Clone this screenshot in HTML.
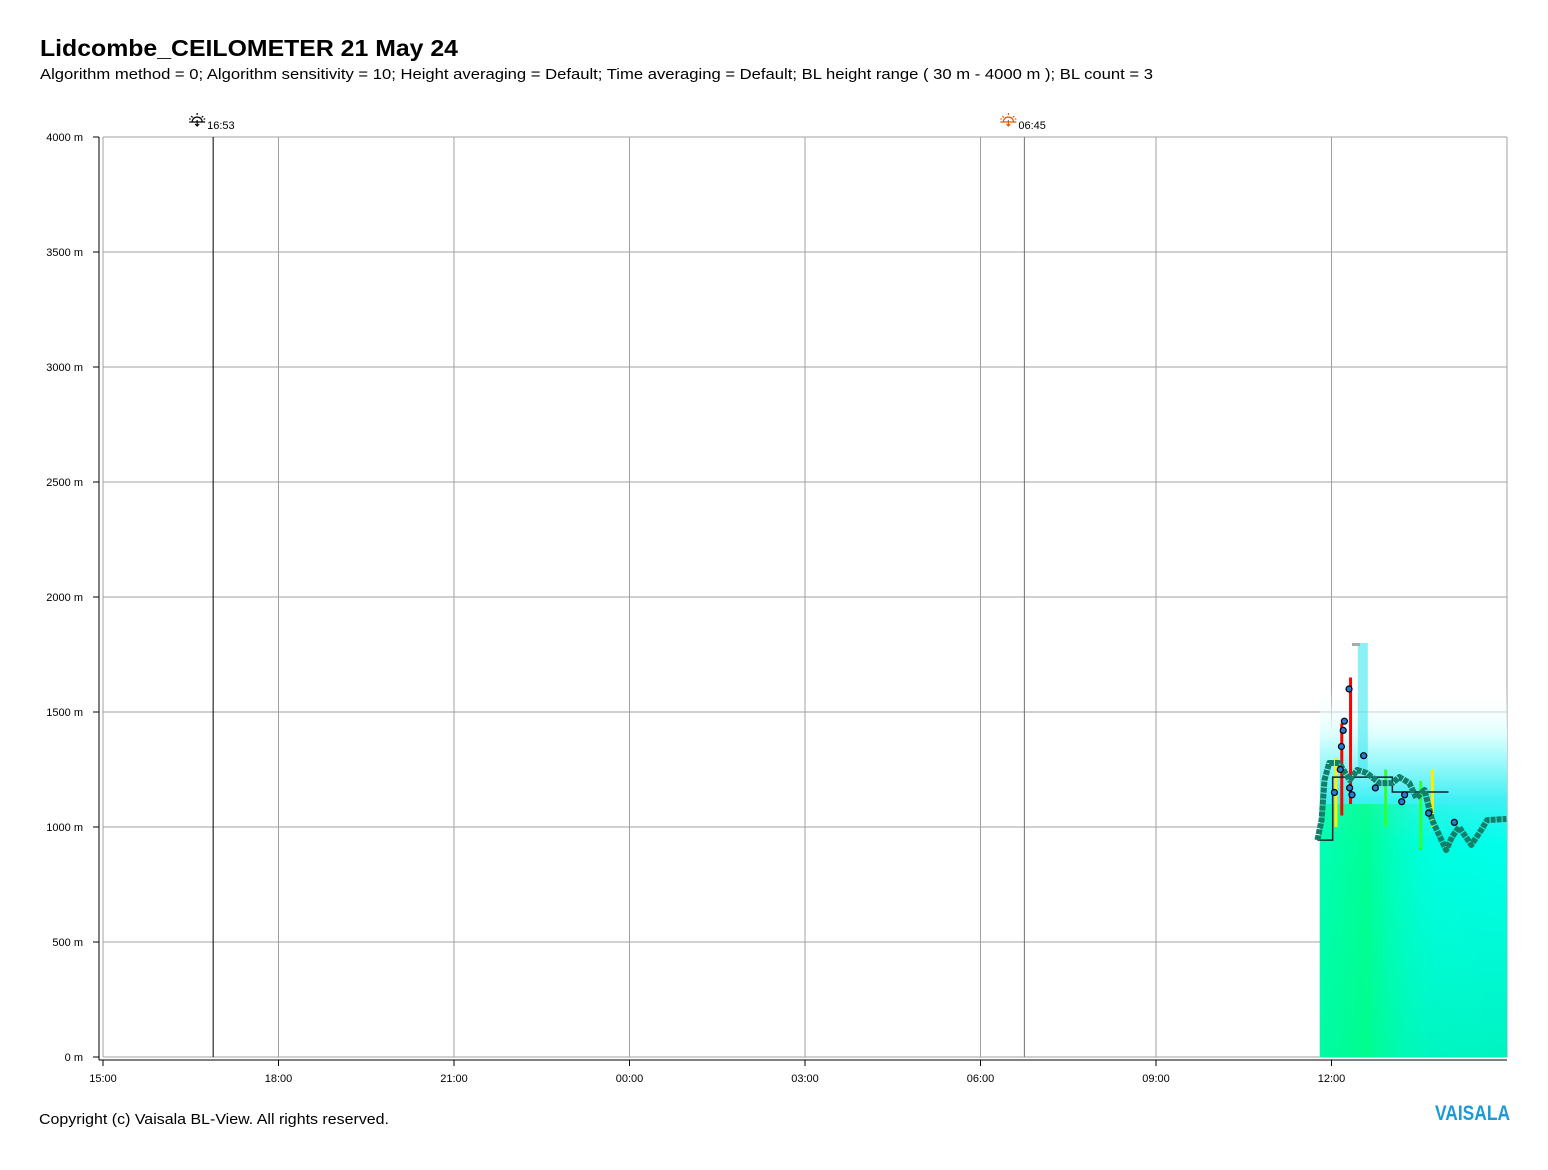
<!DOCTYPE html>
<html><head><meta charset="utf-8"><style>
body{margin:0;background:#fff;width:1548px;height:1165px;overflow:hidden;font-family:"Liberation Sans",sans-serif}
</style></head><body>
<svg id="c" width="1548" height="1165" xmlns="http://www.w3.org/2000/svg">
<defs>
<linearGradient id="bsV" x1="0" y1="0" x2="0" y2="1">
<stop offset="0" stop-color="#ffffff" stop-opacity="0"/>
<stop offset="0.12" stop-color="#e0ffff"/>
<stop offset="0.3" stop-color="#40f0f4"/>
<stop offset="0.42" stop-color="#00ffec"/>
<stop offset="1" stop-color="#00f4c0"/>
</linearGradient>
<linearGradient id="bsG" x1="0" y1="0" x2="1" y2="0">
<stop offset="0" stop-color="#00ff90" stop-opacity="0.6"/>
<stop offset="0.25" stop-color="#00ff80" stop-opacity="0.8"/>
<stop offset="0.6" stop-color="#00ffc0" stop-opacity="0.2"/>
<stop offset="1" stop-color="#00ffd8" stop-opacity="0"/>
</linearGradient>
</defs>
<text x="40" y="56" font-size="23" font-weight="bold" textLength="418" lengthAdjust="spacingAndGlyphs">Lidcombe_CEILOMETER 21 May 24</text>
<text x="40" y="79" font-size="15" textLength="1113" lengthAdjust="spacingAndGlyphs">Algorithm method = 0; Algorithm sensitivity = 10; Height averaging = Default; Time averaging = Default; BL height range ( 30 m - 4000 m ); BL count = 3</text>
<text x="39" y="1124" font-size="15" textLength="350" lengthAdjust="spacingAndGlyphs">Copyright (c) Vaisala BL-View. All rights reserved.</text>
<text x="1435" y="1120" font-size="21" font-weight="bold" fill="#1a9ad6" textLength="75" lengthAdjust="spacingAndGlyphs">VAISALA</text>
<g id="grid"></g><g id="data"></g><g id="axes"></g>
</svg>
<script>
const yTicks=[0,500,1000,1500,2000,2500,3000,3500,4000];
const xTickLabels=["15:00","18:00","21:00","00:00","03:00","06:00","09:00","12:00"];
const blTimes=[20.76,20.83,20.88,20.96,21.13,21.31,21.44,21.60,21.82,22.04,22.16,22.33,22.45,22.59,22.72,22.96,23.06,23.18,23.39,23.56,23.66,23.99];
const blHeights=[943,1030,1204,1278,1278,1204,1248,1235,1191,1191,1217,1191,1126,1161,1030,900,957,1000,922,987,1030,1035];
const stepTimes=[20.76,21.02,21.02,22.04,22.04,23.0];
const stepHeights=[943,943,1217,1217,1152,1152];
const dotTimes=[21.05,21.15,21.17,21.2,21.22,21.3,21.31,21.35,21.55,21.75,22.2,22.25,22.66,23.1];
const dotHeights=[1150,1250,1350,1420,1460,1600,1170,1140,1310,1170,1110,1140,1060,1020];
const sunEvents=[["16:53",1.883,"#000"],["06:45",15.75,"#e05a00"]];
const dataStart=20.8, dataEnd=24;
const X=h=>103+h*(1404/24), Y=m=>1057-m*0.23;
const NS="http://www.w3.org/2000/svg";
function mk(p,t,a){const e=document.createElementNS(NS,t);for(const k in a)e.setAttribute(k,a[k]);p.appendChild(e);return e;}
const G=document.getElementById('grid'),D=document.getElementById('data'),A=document.getElementById('axes');
yTicks.forEach(v=>{
 const l=mk(G,'line',{x1:103,x2:1507,y1:Y(v),y2:Y(v),stroke:'#a0a0a0'});
 
 
 mk(A,'line',{x1:93,x2:99,y1:Y(v),y2:Y(v),stroke:'#000'});
 const t=mk(A,'text',{x:83,y:Y(v)+4,'font-size':11,'text-anchor':'end'});t.textContent=v+' m';
 
 
});
xTickLabels.forEach((s,i)=>{
 const x=X(i*3);
 const l=mk(G,'line',{x1:x,x2:x,y1:137,y2:1057,stroke:'#a0a0a0'});
 
 
 mk(A,'line',{x1:x,x2:x,y1:1060,y2:1066,stroke:'#000'});
 const t=mk(A,'text',{x:x,y:1082,'font-size':11,'text-anchor':'middle'});t.textContent=s;
 
 
});
mk(G,'line',{x1:1507,x2:1507,y1:137,y2:1057,stroke:'#a0a0a0'});
mk(A,'line',{x1:99,x2:99,y1:137,y2:1060,stroke:'#000'});
mk(A,'line',{x1:99,x2:1507,y1:1060,y2:1060,stroke:'#000'});
const bx=X(dataStart),bw=X(dataEnd)-X(dataStart);
const r1=mk(D,'rect',{x:bx,y:Y(1600),width:bw,height:Y(0)-Y(1600),fill:'url(#bsV)'});


mk(D,'rect',{x:bx,y:Y(1100),width:bw,height:Y(0)-Y(1100),fill:'url(#bsG)'});
mk(D,'rect',{x:X(21.45),y:Y(1800),width:10,height:Y(1250)-Y(1800),fill:'#40e8f0',opacity:0.6});
[[21.15,1050,1450,'#ff0000'],[21.3,1100,1650,'#ff0000'],[21.05,1000,1300,'#ffee00'],[21.9,1000,1250,'#30ff30'],[22.5,900,1200,'#30ff30'],[22.7,1000,1250,'#ffee00']].forEach(s=>{
 const r=mk(D,'rect',{x:X(s[0]),y:Y(s[2]),width:3,height:Y(s[1])-Y(s[2]),fill:s[3]});
 
 
});
mk(D,'rect',{x:X(21.35),y:Y(1800),width:8,height:3,fill:'#aaa'});
let p='';stepTimes.forEach((t,i)=>p+=(i?'L':'M')+X(t)+' '+Y(stepHeights[i]));
const st=mk(D,'path',{d:p,fill:'none',stroke:'#102030','stroke-width':1.5});


p='';blTimes.forEach((t,i)=>p+=(i?'L':'M')+X(t)+' '+Y(blHeights[i]));
const bl=mk(D,'path',{d:p,fill:'none',stroke:'#128068','stroke-width':6,'stroke-linejoin':'round','stroke-dasharray':'5 1'});


dotTimes.forEach((t,i)=>{
 const c=mk(D,'circle',{cx:X(t),cy:Y(dotHeights[i]),r:3,fill:'#2a7ad0',stroke:'#000','stroke-width':1.2});
 
 
});
sunEvents.forEach(s=>{
 const x=X(s[1]);
 const l=mk(A,'line',{x1:x,x2:x,y1:137,y2:1057,stroke:s[2]=='#000'?'#000':'#707070'});
 
 
 const g=mk(A,'g',{transform:'translate('+(x-16)+',120)',stroke:s[2],fill:'none','stroke-width':1.2});
 
 
 mk(g,'path',{d:'M-5 2 A5 5 0 0 1 5 2 M-8 2 L8 2 M0 -7 V-5 M-6 -4 L-4.5 -2.5 M6 -4 L4.5 -2.5 M-8 -1 H-6.5 M8 -1 H6.5 M0 0 V6 M-2 4 L0 6 L2 4'});
 const t=mk(A,'text',{x:x-6,y:129,'font-size':11});t.textContent=s[0];
 
 
});
</script>
</body></html>
